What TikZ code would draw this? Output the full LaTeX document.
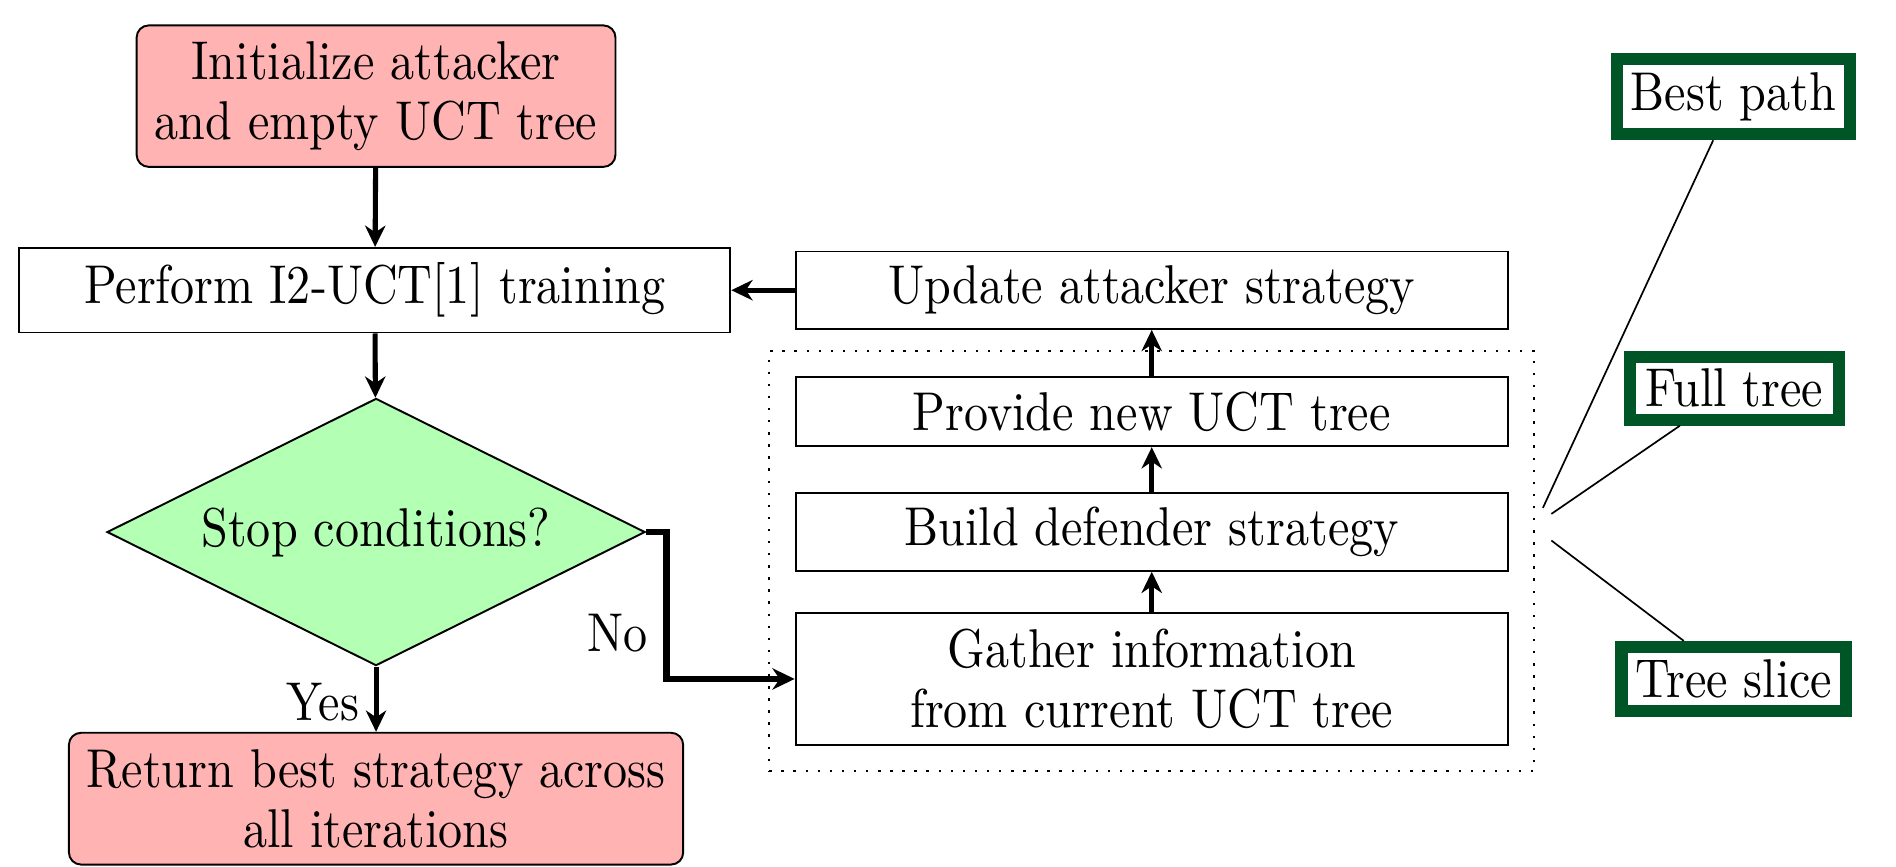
\documentclass[tikz,border=0pt]{standalone}
\usepackage{fontspec}
\usetikzlibrary{shapes.geometric,arrows.meta,fit}

% Latin Modern, set slightly narrow
\newfontfamily\diagfont{lmroman10-regular.otf}[FakeStretch=0.88]

\definecolor{startred}{RGB}{255,179,179}
\definecolor{decgreen}{RGB}{179,255,179}
\definecolor{tagframe}{RGB}{0,85,38}

\tikzset{
  every node/.style={font=\diagfont\fontsize{11.3}{12.5}\selectfont, inner sep=0pt, align=center},
  terminal/.style={draw, line width=0.4pt, fill=startred, rounded corners=2.5pt},
  stepbox/.style={draw, line width=0.4pt, minimum width=147.25pt},
  decision/.style={draw, line width=0.4pt, diamond, fill=decgreen, aspect=2},
  tagbox/.style={draw=tagframe, line width=2.5pt, fill=white},
  flow/.style={line width=1.05pt, -{Stealth[length=4.4pt, width=4.2pt, inset=1.4pt]}},
  noflow/.style={line width=1.35pt, -{Stealth[length=4.6pt, width=4.4pt, inset=1.5pt]}},
  leader/.style={line width=0.35pt},
}

\begin{document}
\begin{tikzpicture}[x=0.25pt, y=-0.25pt]
  \useasboundingbox (0,0) rectangle (1568,717);

  % main loop
  \node[terminal, minimum width=99pt, minimum height=29.25pt] (init) at (311,79.5)
    {Initialize attacker\\and empty UCT tree};
  \node[draw, line width=0.4pt, minimum width=147pt, minimum height=17.5pt] (train) at (310,240)
    {Perform I2-UCT[1] training};
  \node[decision, minimum width=111.25pt, minimum height=55.25pt] (stop) at (311,440)
    {Stop conditions?};
  \node[terminal, minimum width=127pt, minimum height=27.25pt] (ret) at (311,660.5)
    {Return best strategy across\\all iterations};

  % defender side
  \node[stepbox, minimum height=16pt] (update) at (952.5,240) {Update attacker strategy};
  \node[stepbox, minimum height=14.25pt] (provide) at (952.5,340.5) {Provide new UCT tree};
  \node[stepbox, minimum height=16pt] (build) at (952.5,440) {Build defender strategy};
  \node[stepbox, minimum height=27.25pt] (gather) at (952.5,561.5)
    {Gather information\\from current UCT tree};
  \node[draw, dotted, line width=0.5pt, inner sep=5.25pt, fit=(provide)(gather)] (group) {};

  % tree variants
  \node[tagbox, minimum width=48.25pt, minimum height=15.5pt] (best) at (1433.5,80) {Best path};
  \node[tagbox, minimum width=43.25pt, minimum height=13pt] (full) at (1434.5,321) {Full tree};
  \node[tagbox, minimum width=46.5pt, minimum height=13.25pt] (slice) at (1434,561.5) {Tree slice};

  \coordinate (lb) at (1276,420);
  \coordinate (lf) at (1283,425);
  \coordinate (ls) at (1283,447);
  \draw[leader] (lb) -- (best);
  \draw[leader] (lf) -- (full);
  \draw[leader] (ls) -- (slice);

  % connectors
  \draw[flow] (init) -- (train);
  \draw[flow] (train) -- (stop);
  \draw[flow] (stop) -- node[pos=0.55, left=3pt] {Yes} (ret);
  \coordinate (bend) at (551,440);
  \draw[noflow] (stop.east) -- (bend) -- (bend |- gather.west) -- (gather.west);
  \node (nolab) at (511,524) {No};
  \draw[flow] (gather) -- (build);
  \draw[flow] (build) -- (provide);
  \draw[flow] (provide) -- (update);
  \draw[flow] (update) -- (train);
\end{tikzpicture}
\end{document}
